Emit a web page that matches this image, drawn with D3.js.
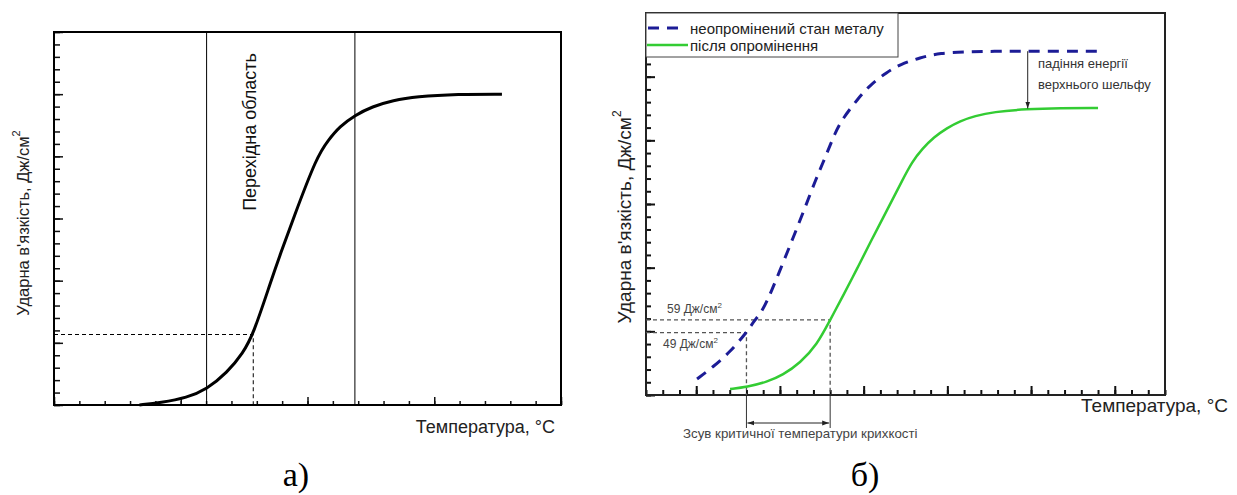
<!DOCTYPE html>
<html>
<head>
<meta charset="utf-8">
<script src="https://cdn.jsdelivr.net/npm/d3@7"></script>
<style>
body{margin:0;background:#fff}
svg{font-family:"Liberation Sans",Arial,sans-serif}
</style>
</head>
<body>
<svg id="chart" width="1237" height="495"></svg>
<script>
// ---- panel a: single transition curve
var tempA   = [3.37, 4.2, 5.25, 6.02, 6.83, 7.46, 7.86, 8.56, 8.94, 9.44, 10.37, 10.82, 11.27, 11.87, 12.55, 13.38, 14.28, 15.94, 17.67];
var energyA = [0, 0.19, 0.59, 1.26, 2.6, 4.2, 5.67, 9.98, 12.2, 15.0, 20.0, 21.3, 22.4, 23.3, 24.0, 24.5, 24.8, 25.0, 25.0];
var transitionA = [6.02, 11.87];
var refPointA = [7.86, 5.67];

// ---- panel b: before / after irradiation
var tempB0   = [0.05, 1.0, 2.02, 3.0, 3.5, 3.93, 4.53, 5.18, 5.78, 6.38, 7.1, 7.69, 8.29, 8.77, 9.6, 10.38, 11.4, 12.17, 13.37, 14.56, 16.18, 17.73, 19.82, 23.94];
var energyB0 = [1.26, 2.2, 3.38, 4.9, 5.9, 6.52, 8.25, 10.37, 12.33, 14.3, 16.8, 18.6, 20.6, 21.75, 23.17, 24.35, 25.37, 25.95, 26.5, 26.86, 26.94, 27.0, 27.0, 27.0];
var tempB1   = [2.02, 3.03, 4.23, 5.18, 6.2, 7.21, 8.0, 8.77, 9.6, 10.38, 11.4, 12.35, 12.89, 13.49, 14.2, 14.98, 15.76, 16.65, 17.73, 19.76, 21.73, 24.0];
var energyB1 = [0.47, 0.63, 1.02, 1.57, 2.51, 3.93, 5.9, 7.78, 9.9, 11.94, 14.53, 16.96, 18.3, 19.32, 20.26, 20.97, 21.52, 21.91, 22.23, 22.46, 22.54, 22.54];
var refTempB = [3, 8];
var refEnergyB = [4.9, 5.9];
var refLabelsB = ["49 Дж/см", "59 Дж/см"];
var dropTempB = 19.8;
var legendLabels = ["неопромінений стан металу", "після опромінення"];

var svg = d3.select("#chart");

function ticks(g, scale, orient, minorVals, majorVals, minorLen, majorLen, width) {
  var mk = orient === "bottom" ? d3.axisBottom : d3.axisLeft;
  [[minorVals, minorLen], [majorVals, majorLen]].forEach(function (t) {
    var a = g.append("g").call(mk(scale).tickValues(t[0]).tickSize(-t[1]).tickFormat(""));
    a.select(".domain").remove();
    a.selectAll("line").attr("stroke", "#111").attr("stroke-width", width);
  });
}

// ================= panel a =================
var xa = d3.scaleLinear().domain([0, 20]).range([54, 561]);
var ya = d3.scaleLinear().domain([0, 30]).range([405, 32]);
var ga = svg.append("g");

ticks(ga.append("g").attr("transform", "translate(0,405)"), xa, "bottom",
  d3.range(0, 21), d3.range(0, 21, 5), 4, 8, 1.5);
ticks(ga.append("g").attr("transform", "translate(54,0)"), ya, "left",
  d3.range(0, 31), d3.range(0, 31, 5), 6, 9, 1.5);

ga.append("rect").attr("x", 54).attr("y", 32).attr("width", 507).attr("height", 373)
  .attr("fill", "none").attr("stroke", "#000").attr("stroke-width", 2);

ga.selectAll(".vline").data(transitionA).enter().append("line")
  .attr("x1", function (d) { return xa(d); }).attr("x2", function (d) { return xa(d); })
  .attr("y1", ya(30)).attr("y2", ya(0)).attr("stroke", "#000").attr("stroke-width", 1);

ga.append("path")
  .attr("d", "M" + xa(0) + "," + ya(refPointA[1]) + "H" + xa(refPointA[0]) + "V" + ya(0))
  .attr("fill", "none").attr("stroke", "#000").attr("stroke-width", 1).attr("stroke-dasharray", "4,3");

var lineA = d3.line().x(function (d, i) { return xa(tempA[i]); }).y(function (d) { return ya(d); })
  .curve(d3.curveBasis);
ga.append("path").attr("d", lineA(energyA)).attr("fill", "none")
  .attr("stroke", "#000").attr("stroke-width", 3);

ga.append("text").attr("transform", "translate(" + xa(7.75) + ",132) rotate(-90)")
  .attr("text-anchor", "middle").attr("dominant-baseline", "central")
  .attr("font-size", 18).attr("fill", "#111").text("Перехідна область");

var yla = ga.append("text").attr("transform", "translate(23,223) rotate(-90)")
  .attr("text-anchor", "middle").attr("dominant-baseline", "central")
  .attr("font-size", 16.5).attr("fill", "#222");
yla.append("tspan").text("Ударна в'язкість, Дж/см");
yla.append("tspan").attr("font-size", 11).attr("dy", -7).text("2");

ga.append("text").attr("x", 555).attr("y", 433).attr("text-anchor", "end")
  .attr("font-size", 18).attr("fill", "#222").text("Температура, °C");

ga.append("text").attr("x", 296).attr("y", 486).attr("text-anchor", "middle")
  .attr("font-family", "Liberation Serif, Times New Roman, serif")
  .attr("font-size", 34).attr("fill", "#000").text("а)");

// ================= panel b =================
var xb = d3.scaleLinear().domain([-3, 28]).range([646, 1165]);
var yb = d3.scaleLinear().domain([0, 30]).range([395, 13]);
var gb = svg.append("g");
var blue = "#1c1c96", green = "#33cc33";

ticks(gb.append("g").attr("transform", "translate(0,395)"), xb, "bottom",
  d3.range(-3, 29), d3.range(0, 29, 5), 5, 9, 2);
ticks(gb.append("g").attr("transform", "translate(646,0)"), yb, "left",
  d3.range(0, 31), d3.range(0, 31, 5), 5, 9, 2);

gb.append("rect").attr("x", 646).attr("y", 13).attr("width", 519).attr("height", 382)
  .attr("fill", "none").attr("stroke", "#222").attr("stroke-width", 2);

// reference dashed lines
refTempB.forEach(function (t, i) {
  gb.append("path")
    .attr("d", "M" + xb(-3) + "," + yb(refEnergyB[i]) + "H" + xb(t) + "V" + yb(0))
    .attr("fill", "none").attr("stroke", "#555").attr("stroke-width", 1.3).attr("stroke-dasharray", "4,3");
  gb.append("line").attr("x1", xb(t)).attr("x2", xb(t)).attr("y1", 396).attr("y2", 428)
    .attr("stroke", "#333").attr("stroke-width", 1);
});

var ref = gb.selectAll(".reflbl").data(refLabelsB).enter().append("text")
  .attr("x", function (d, i) { return i ? 667 : 663; })
  .attr("y", function (d, i) { return i ? 313 : 348; })
  .attr("font-size", 12).attr("fill", "#444");
ref.append("tspan").text(function (d) { return d; });
ref.append("tspan").attr("font-size", 8).attr("dy", -5).text("2");

var defs = svg.append("defs");
defs.append("marker").attr("id", "ah").attr("viewBox", "0 0 10 10").attr("refX", 10).attr("refY", 5)
  .attr("markerWidth", 7).attr("markerHeight", 7).attr("orient", "auto-start-reverse")
  .append("path").attr("d", "M0,1.5L10,5L0,8.5Z").attr("fill", "#222");

gb.append("line").attr("x1", xb(refTempB[0]) + 1).attr("x2", xb(refTempB[1]) - 1)
  .attr("y1", 423).attr("y2", 423).attr("stroke", "#222").attr("stroke-width", 1)
  .attr("marker-start", "url(#ah)").attr("marker-end", "url(#ah)");

gb.append("text").attr("x", 683).attr("y", 438).attr("font-size", 13.3).attr("fill", "#444")
  .text("Зсув критичної температури крихкості");

var lineB = function (temps) {
  return d3.line().x(function (d, i) { return xb(temps[i]); }).y(function (d) { return yb(d); })
    .curve(d3.curveBasis);
};
gb.append("path").attr("d", lineB(tempB1)(energyB1)).attr("fill", "none")
  .attr("stroke", green).attr("stroke-width", 2.5);
gb.append("path").attr("d", lineB(tempB0)(energyB0)).attr("fill", "none")
  .attr("stroke", blue).attr("stroke-width", 3).attr("stroke-dasharray", "11,8");

// upper shelf drop arrow
gb.append("line").attr("x1", xb(dropTempB)).attr("x2", xb(dropTempB))
  .attr("y1", yb(27)).attr("y2", yb(22.5)).attr("stroke", "#222").attr("stroke-width", 1)
  .attr("marker-end", "url(#ah)");
gb.append("text").attr("x", 1038).attr("y", 68).attr("font-size", 13).attr("fill", "#333").text("падіння енергії");
gb.append("text").attr("x", 1038).attr("y", 89).attr("font-size", 13).attr("fill", "#333").text("верхнього шельфу");

// legend
var lg = gb.append("g");
lg.append("rect").attr("x", 646).attr("y", 13).attr("width", 252).attr("height", 44)
  .attr("fill", "#fff").attr("stroke", "#444").attr("stroke-width", 1);
lg.append("line").attr("x1", 648).attr("x2", 680).attr("y1", 28).attr("y2", 28)
  .attr("stroke", blue).attr("stroke-width", 3).attr("stroke-dasharray", "11,8");
lg.append("line").attr("x1", 647).attr("x2", 688).attr("y1", 45).attr("y2", 45)
  .attr("stroke", green).attr("stroke-width", 2.5);
lg.selectAll(".lt").data(legendLabels).enter().append("text")
  .attr("x", 690).attr("y", function (d, i) { return 28 + i * 17; })
  .attr("dominant-baseline", "central").attr("font-size", 15).attr("fill", "#222")
  .text(function (d) { return d; });

var ylb = gb.append("text").attr("transform", "translate(624,217) rotate(-90)")
  .attr("text-anchor", "middle").attr("dominant-baseline", "central")
  .attr("font-size", 19).attr("fill", "#222");
ylb.append("tspan").text("Ударна в'язкість, Дж/см");
ylb.append("tspan").attr("font-size", 12).attr("dy", -7).text("2");

gb.append("text").attr("x", 1228).attr("y", 412).attr("text-anchor", "end")
  .attr("font-size", 19).attr("fill", "#222").text("Температура, °C");

gb.append("text").attr("x", 865).attr("y", 486).attr("text-anchor", "middle")
  .attr("font-family", "Liberation Serif, Times New Roman, serif")
  .attr("font-size", 34).attr("fill", "#000").text("б)");
</script>
</body>
</html>
